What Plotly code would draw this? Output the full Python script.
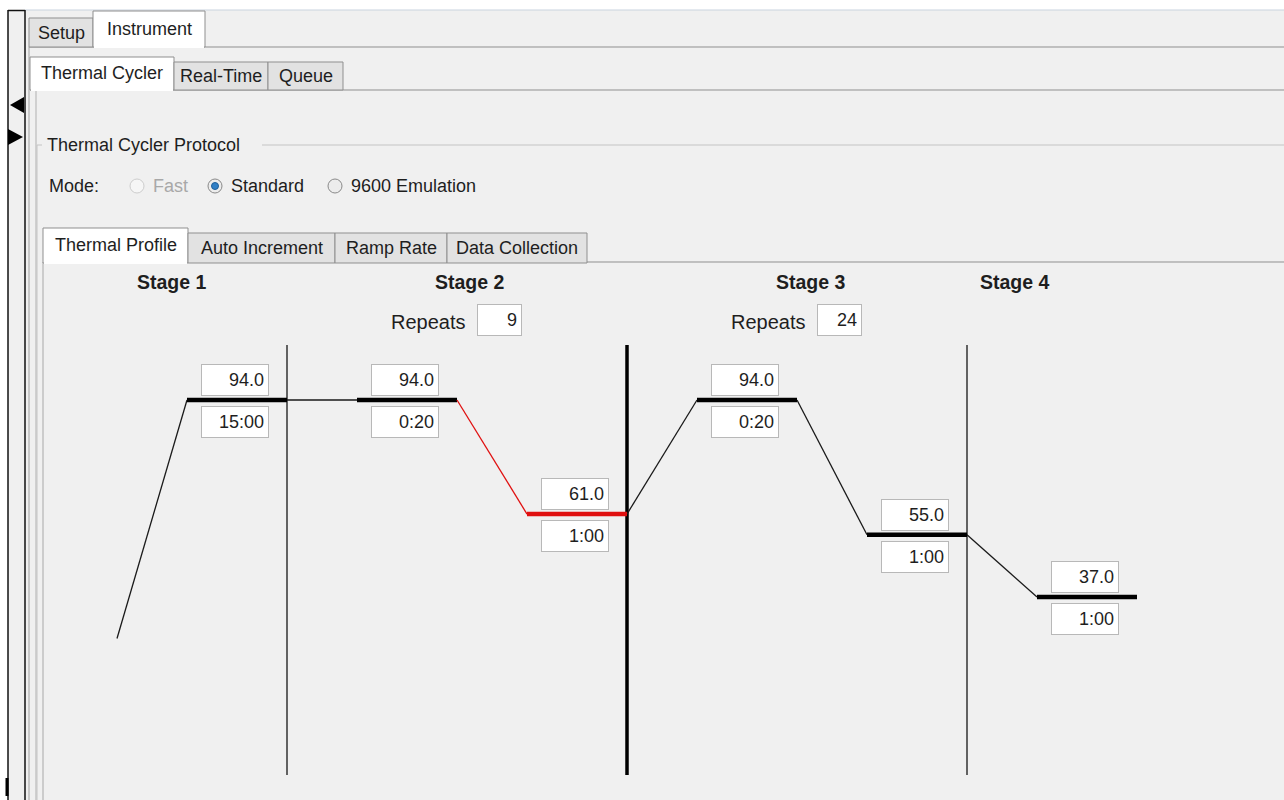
import plotly.graph_objects as go

W, H = 1284, 800

# protocol data
stage_names = ["Stage 1", "Stage 2", "Stage 3", "Stage 4"]
stage_step_counts = [1, 2, 2, 1]
stage_repeats = [1, 9, 24, 1]
step_temps = [94.0, 94.0, 61.0, 94.0, 55.0, 37.0]
step_times = ["15:00", "0:20", "1:00", "0:20", "1:00", "1:00"]
start_temp = 25.0
selected_step = 2

# ui labels
outer_tabs = ["Setup", "Instrument"]
cycler_tabs = ["Thermal Cycler", "Real-Time", "Queue"]
profile_tabs = ["Thermal Profile", "Auto Increment", "Ramp Rate", "Data Collection"]
mode_options = ["Fast", "Standard", "9600 Emulation"]
mode_selected = "Standard"
mode_disabled = "Fast"

# scale of the profile canvas (pixels per step / per degree)
STEP_PX = 170
RAMP = 70 / STEP_PX
X0_PX = 117
DEG_PX = 3.456
REF_T, REF_PX = 94.0, 400

UI_FONT = "Liberation Sans, Arial, sans-serif"
GRAY = "#8f8f8f"
BG = "#f0f0f0"

shapes = []
annotations = []


def rect(x0, y0, x1, y1, fill, line=None, lw=1, layer="below"):
    shapes.append(dict(
        type="rect", xref="paper", yref="paper",
        x0=x0 / W, x1=x1 / W, y0=1 - y1 / H, y1=1 - y0 / H,
        fillcolor=fill, line=dict(color=line or fill, width=lw if line else 0),
        layer=layer,
    ))


def seg(x0, y0, x1, y1, color, w=1, layer="below"):
    shapes.append(dict(
        type="line", xref="paper", yref="paper",
        x0=x0 / W, x1=x1 / W, y0=1 - y0 / H, y1=1 - y1 / H,
        line=dict(color=color, width=w), layer=layer,
    ))


def text(x, y, s, size=18, color="#1e1e1e", anchor="left", bold=False):
    annotations.append(dict(
        xref="paper", yref="paper", x=x / W, y=1 - y / H, text=f"<b>{s}</b>" if bold else s,
        showarrow=False, xanchor=anchor, yanchor="middle",
        font=dict(family=UI_FONT, size=size, color=color),
    ))


def tab(x0, y0, x1, y1, label, selected, ty):
    rect(x0, y0, x1, y1, "white" if selected else "#e2e2e2", GRAY)
    if selected:
        seg(x0 + 1, y1, x1 - 1, y1, "white", 2)
    text((x0 + x1) / 2, ty, label, anchor="center")


# window chrome
rect(8, 10, W, H, BG)
seg(25, 10, W, 10, "#c9d3de")
seg(8, 10, 8, H, "#111111", 1.5)
seg(25, 10, 25, H, "#111111", 1.5)
seg(8, 10.5, 25, 10.5, "#111111", 1.5)
shapes.append(dict(type="path", xref="paper", yref="paper", layer="below",
                   path=f"M {24/W} {1-97/H} L {10/W} {1-105/H} L {24/W} {1-113/H} Z",
                   fillcolor="black", line=dict(width=0)))
shapes.append(dict(type="path", xref="paper", yref="paper", layer="below",
                   path=f"M {8/W} {1-129/H} L {23/W} {1-137/H} L {8/W} {1-145/H} Z",
                   fillcolor="black", line=dict(width=0)))
seg(7, 778, 7, 796, "black", 3)

# outer tabs
seg(29, 47, W, 47, GRAY)
seg(29, 47, 29, H, "#a0a0a0")
tab(29, 18, 93, 47, outer_tabs[0], False, 33)
tab(93, 11, 205, 47, outer_tabs[1], True, 29)

# thermal cycler tabs
seg(30, 90, W, 90, GRAY)
seg(36, 90, 36, H, "#b0b0b0")
cyc_edges = [30, 174, 268, 343]
for k, name in enumerate(cycler_tabs):
    sel = k == 0
    tab(cyc_edges[k], 57 if sel else 62, cyc_edges[k + 1], 90, name, sel, 73 if sel else 76)

# group box
seg(37, 145, 42, 145, "#c4c4c4")
seg(262, 145, W, 145, "#c4c4c4")
seg(37, 145, 37, H, "#c4c4c4")
text(45, 145, "Thermal Cycler Protocol")

# mode radios
text(47, 186, "Mode:")
radio_x = [137, 215, 335]
for cx, name in zip(radio_x, mode_options):
    disabled = name == mode_disabled
    shapes.append(dict(type="circle", xref="paper", yref="paper", layer="below",
                       x0=(cx - 7) / W, x1=(cx + 7) / W, y0=1 - 193 / H, y1=1 - 179 / H,
                       fillcolor="#f6f6f6" if disabled else "#ececec",
                       line=dict(color="#cdcdcd" if disabled else "#8a8a8a", width=1)))
    if name == mode_selected:
        shapes.append(dict(type="circle", xref="paper", yref="paper", layer="below",
                           x0=(cx - 3.5) / W, x1=(cx + 3.5) / W, y0=1 - 189.5 / H, y1=1 - 182.5 / H,
                           fillcolor="#2f7fc6", line=dict(color="#1d5f9a", width=1)))
    text(cx + 14, 186, name, color="#a8a8a8" if disabled else "#1e1e1e")

# profile tabs
seg(43, 262, W, 262, GRAY)
seg(43, 262, 43, H, "#a8a8a8")
prof_edges = [43, 188, 335, 447, 587]
for k, name in enumerate(profile_tabs):
    sel = k == 0
    tab(prof_edges[k], 228 if sel else 233, prof_edges[k + 1], 263, name, sel, 245 if sel else 248)

# profile lines
ramp_x, ramp_y, hold_x, hold_y = [], [], [], []
sel_ramp_x, sel_ramp_y, sel_hold_x, sel_hold_y = [], [], [], []
prev = start_temp
for i, t in enumerate(step_temps):
    rx, ry = [i, i + RAMP, None], [prev, t, None]
    hx, hy = [i + RAMP, i + 1, None], [t, t, None]
    if i == selected_step:
        sel_ramp_x += rx; sel_ramp_y += ry; sel_hold_x += hx; sel_hold_y += hy
    else:
        ramp_x += rx; ramp_y += ry; hold_x += hx; hold_y += hy
    prev = t

fig = go.Figure()
fig.add_trace(go.Scatter(x=ramp_x, y=ramp_y, mode="lines", line=dict(color="#1a1a1a", width=1.3),
                         hoverinfo="skip", showlegend=False))
fig.add_trace(go.Scatter(x=hold_x, y=hold_y, mode="lines", line=dict(color="black", width=4.5),
                         hoverinfo="skip", showlegend=False))
fig.add_trace(go.Scatter(x=sel_ramp_x, y=sel_ramp_y, mode="lines", line=dict(color="#e01010", width=1.3),
                         hoverinfo="skip", showlegend=False))
fig.add_trace(go.Scatter(x=sel_hold_x, y=sel_hold_y, mode="lines", line=dict(color="#e01010", width=4.5),
                         hoverinfo="skip", showlegend=False))

# stage separators, labels, repeats
label_nudge = [-30, 13, 14, -37]
start = 0
for s, (name, n, rep) in enumerate(zip(stage_names, stage_step_counts, stage_repeats)):
    end = start + n
    center = start + n / 2
    annotations.append(dict(x=center, xref="x", y=1 - 282 / H, yref="paper", text=f"<b>{name}</b>",
                            showarrow=False, xanchor="center", yanchor="middle", xshift=label_nudge[s],
                            font=dict(family=UI_FONT, size=19.5, color="#1e1e1e")))
    if rep > 1:
        annotations.append(dict(x=center, xref="x", y=1 - 322 / H, yref="paper", text="Repeats",
                                showarrow=False, xanchor="right", yanchor="middle", xshift=11,
                                font=dict(family=UI_FONT, size=20, color="#1e1e1e")))
        annotations.append(dict(x=center, xref="x", y=1 - 320 / H, yref="paper", text=str(rep),
                                showarrow=False, xanchor="left", yanchor="middle", xshift=20,
                                width=35, height=22, borderpad=4, borderwidth=1, bordercolor="#b8b8b8",
                                bgcolor="white", align="right",
                                font=dict(family=UI_FONT, size=18, color="#1e1e1e")))
    if s < len(stage_names) - 1:
        holds_sel = start <= selected_step < end
        shapes.append(dict(type="line", xref="x", yref="paper", x0=end, x1=end,
                           y0=1 - 345 / H, y1=1 - 775 / H, layer="below",
                           line=dict(color="black" if holds_sel else "#333333", width=3.5 if holds_sel else 1.5)))
    start = end

# temperature / time boxes
for i, (t, tm) in enumerate(zip(step_temps, step_times)):
    for val, anchor, shift in ((f"{t:.1f}", "bottom", 4), (tm, "top", -6)):
        annotations.append(dict(x=i + RAMP, xref="x", y=t, yref="y", text=val, showarrow=False,
                                xanchor="left", yanchor=anchor, xshift=14, yshift=shift,
                                width=58, height=22, borderpad=4, borderwidth=1, bordercolor="#b8b8b8",
                                bgcolor="white", align="right",
                                font=dict(family=UI_FONT, size=18, color="#1e1e1e")))

fig.update_layout(
    width=W, height=H,
    margin=dict(l=0, r=0, t=0, b=0),
    paper_bgcolor="white",
    plot_bgcolor="rgba(0,0,0,0)",
    xaxis=dict(range=[-X0_PX / STEP_PX, (W - X0_PX) / STEP_PX], visible=False, fixedrange=True),
    yaxis=dict(range=[REF_T - (H - REF_PX) / DEG_PX, REF_T + REF_PX / DEG_PX], visible=False, fixedrange=True),
    shapes=shapes,
    annotations=annotations,
    showlegend=False,
)

# the page body has a default 8px margin; drop it so the figure sits at the window origin
fig.write_html("out.html", config={"displayModeBar": False},
               post_script="document.body.style.margin='0';document.body.style.overflow='hidden';")
